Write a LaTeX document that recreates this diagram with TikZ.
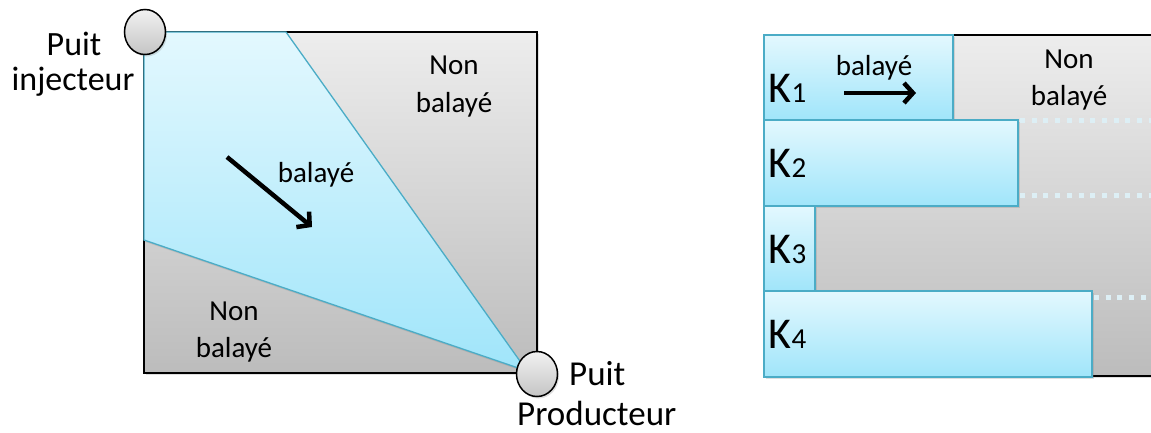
\documentclass[tikz,border=0pt]{standalone}
\usepackage{fontspec}
\setmainfont{Carlito}
\usetikzlibrary{shapes.geometric,arrows.meta,shadows}
\definecolor{bluetop}{HTML}{E3F8FE}
\definecolor{bluebot}{HTML}{A0E5FA}
\definecolor{graytop}{HTML}{EDEDED}
\definecolor{graybot}{HTML}{BCBCBC}
\definecolor{tealline}{HTML}{4BACC6}
\definecolor{dotcol}{HTML}{DDEFF5}
\definecolor{welltop}{HTML}{F2F2F2}
\definecolor{wellbot}{HTML}{C4C4C4}
\tikzset{
  softshadow/.style={drop shadow={opacity=0.25,shadow xshift=1.5pt,shadow yshift=-2pt}},
  grayarea/.style={draw=black, line width=1.5pt, top color=graytop, bottom color=graybot, softshadow},
  bluearea/.style={draw=tealline, line width=1.3pt, top color=bluetop, bottom color=bluebot, softshadow},
  well/.style={ellipse, draw=black, line width=1.5pt, top color=welltop, bottom color=wellbot,
               minimum width=41pt, minimum height=45pt, inner sep=0pt, softshadow},
  biglbl/.style={anchor=base, inner sep=0pt, font=\fontsize{34}{40}\selectfont},
  bigwest/.style={anchor=base west, inner sep=0pt, font=\fontsize{35}{42}\selectfont},
  lbl/.style={anchor=base, inner sep=0pt, font=\fontsize{29}{35}\selectfont},
  klabel/.style={anchor=base west, inner sep=0pt, font=\fontsize{44}{50}\selectfont},
  flowarrow/.style={line width=4.5pt, -{Straight Barb[length=9pt,width=20pt]}},
  layerdots/.style={draw=dotcol, line width=5pt, dash pattern=on 5pt off 6.7pt}
}
\newcommand{\ksub}[1]{{\fontsize{29}{35}\selectfont #1}}
\begin{document}
\begin{tikzpicture}[x=1pt,y=-1pt]
\useasboundingbox (0,0) rectangle (1151,432);
% ---------- left panel ----------
\path[grayarea] (144,32) rectangle (537,373);
\path[bluearea] (144,32) -- (286,32) -- (527,371) -- (144,240) -- cycle;
\node[well] (inj) at (145,32) {};
\node[well] (prod) at (537,374) {};
\node[biglbl] (injA) at (74,55) {Puit};
\node[biglbl] (injB) at (73,90) {injecteur};
\node[bigwest] (prodA) at (569,385) {Puit};
\node[bigwest] (prodB) at (517,425) {Producteur};
\node[lbl] (swept) at (316,182) {balayé};
\node[lbl] (trA) at (454,74) {Non};
\node[lbl] (trB) at (454,112) {balayé};
\node[lbl] (blA) at (234,320) {Non};
\node[lbl] (blB) at (234,357) {balayé};
\coordinate (la1) at (227,157);
\coordinate (la2) at (312,227);
\draw[flowarrow] (la1) -- (la2);
% ---------- right panel ----------
\path[grayarea] (764,35) rectangle (1170,376);
\coordinate (d1a) at (1020,120); \coordinate (d1b) at (1160,120);
\coordinate (d2a) at (1020,195); \coordinate (d2b) at (1160,195);
\coordinate (d3a) at (1094,297); \coordinate (d3b) at (1160,297);
\draw[layerdots] (d1a) -- (d1b);
\draw[layerdots] (d2a) -- (d2b);
\draw[layerdots] (d3a) -- (d3b);
\path[bluearea] (764,35) rectangle (953,120);
\path[bluearea] (764,120) rectangle (1018,206);
\path[bluearea] (764,206) rectangle (815,291);
\path[bluearea] (764,291) rectangle (1092,377);
\node[klabel] (k1) at (768.5,102) {K\ksub{1}};
\node[klabel] (k2) at (768.5,177) {K\ksub{2}};
\node[klabel] (k3) at (768.5,263) {K\ksub{3}};
\node[klabel] (k4) at (768.5,348) {K\ksub{4}};
\node[lbl] (sw2) at (874,75) {balayé};
\node[lbl] (nrA) at (1069,68) {Non};
\node[lbl] (nrB) at (1069,105) {balayé};
\coordinate (ra1) at (844,93);
\coordinate (ra2) at (916,93);
\draw[flowarrow] (ra1) -- (ra2);
\end{tikzpicture}
\end{document}
